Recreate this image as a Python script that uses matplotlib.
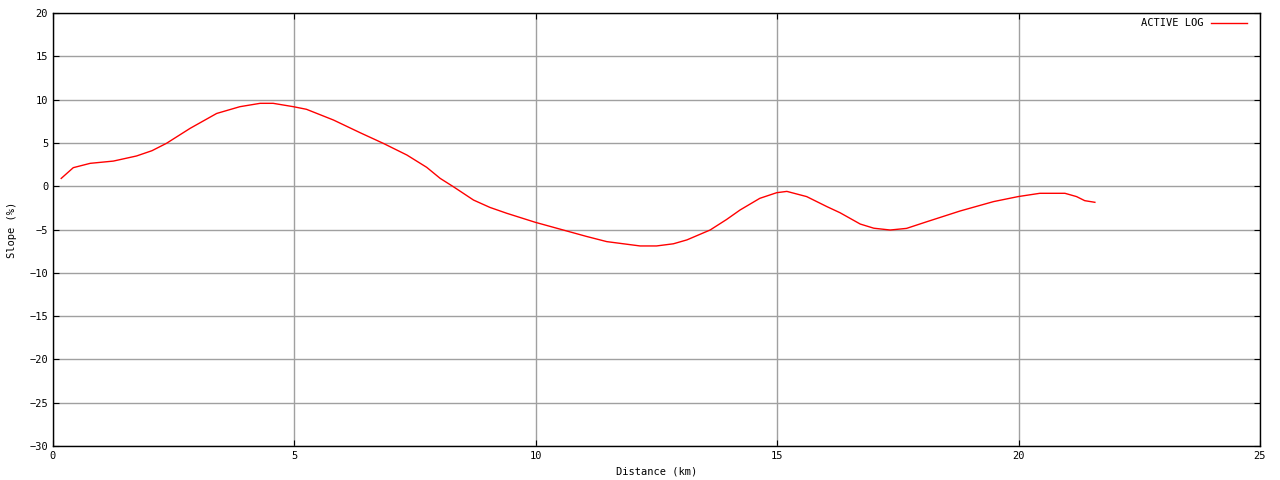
import numpy as np
import matplotlib.pyplot as plt

# slope profile
dist_km = [0.17, 0.42, 0.77, 1.25, 1.73, 2.05, 2.35, 2.84, 3.39, 3.87, 4.29,
           4.56, 4.98, 5.25, 5.81, 6.36, 6.84, 7.33, 7.74, 8.02, 8.29, 8.71,
           9.05, 9.40, 9.99, 10.64, 11.05, 11.47, 12.16, 12.5, 12.85, 13.13,
           13.61, 13.95, 14.23, 14.64, 14.99, 15.2, 15.61, 16.03, 16.3, 16.72,
           17.0, 17.34, 17.68, 18.1, 18.79, 19.48, 19.99, 20.44, 20.96, 21.2,
           21.37, 21.58]
slope_pct = [0.9, 2.14, 2.64, 2.9, 3.49, 4.1, 4.95, 6.68, 8.4, 9.18, 9.57,
             9.57, 9.18, 8.88, 7.64, 6.18, 4.95, 3.6, 2.18, 0.9, -0.05, -1.6,
             -2.45, -3.13, -4.17, -5.17, -5.8, -6.4, -6.9, -6.9, -6.65, -6.2,
             -5.06, -3.85, -2.75, -1.4, -0.75, -0.6, -1.2, -2.36, -3.06, -4.37,
             -4.85, -5.06, -4.87, -4.1, -2.86, -1.78, -1.2, -0.82, -0.82, -1.2,
             -1.67, -1.86]

xticks = [0, 5, 10, 15, 20, 25]
yticks = [20, 15, 10, 5, 0, -5, -10, -15, -20, -25, -30]

plt.rcParams['font.family'] = ['DejaVu Sans Mono']
plt.rcParams['font.size'] = 7.5

fig = plt.figure(figsize=(12.8, 4.8), dpi=100)
ax = fig.add_axes([53 / 1280, 34 / 480, 1207 / 1280, 433 / 480])

ax.plot(dist_km, slope_pct, color='red', lw=1, label='ACTIVE LOG')

ax.set_xlim(0, 25)
ax.set_ylim(-30, 20)
ax.set_xticks(xticks)
ax.set_yticks(yticks)
ax.grid(True, color='#a0a0a0', lw=1)
ax.set_axisbelow(True)
ax.tick_params(direction='in', length=4, top=True, right=True, color='black')
for sp in ax.spines.values():
    sp.set_color('black')
    sp.set_linewidth(1)

ax.set_xlabel('Distance (km)', labelpad=4)
ax.set_ylabel('Slope (%)', labelpad=9)

ax.legend(loc='upper right', frameon=False, markerfirst=False,
          handlelength=3.4, borderaxespad=0.0,
          bbox_to_anchor=(1 - 9 / 1207, 1 - 1 / 433))

fig.savefig('out.png', dpi=100)
